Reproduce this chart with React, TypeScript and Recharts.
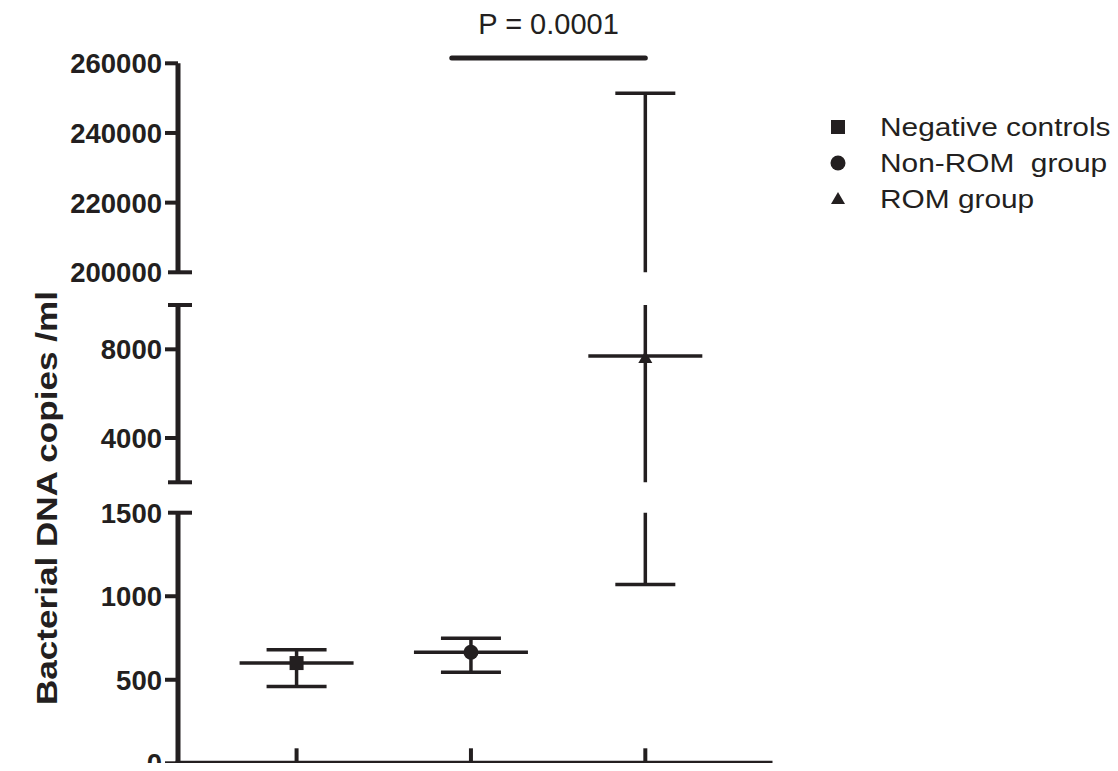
import React from 'react';
import { ComposedChart, Scatter, XAxis, YAxis, ErrorBar, ReferenceLine, Legend } from 'recharts';

// ---------- data ----------
const groupNames = ['Negative controls', 'Non-ROM  group', 'ROM group'];
const groupPositions = [1, 2, 3];
const medianValues = [600, 665, 7700];
const lowValues = [460, 545, 1070];
const highValues = [680, 748, 251400];
const markerTypes = ['square', 'circle', 'triangle'];

const topTicks = [200000, 220000, 240000, 260000];
const midTicks = [2000, 4000, 8000, 10000];
const midLabeled = [4000, 8000];
const bottomTicks = [0, 500, 1000, 1500];

const pValueText = 'P = 0.0001';
const pBarStart = 1.89;
const pBarEnd = 3.0;
const pBarLevel = 261500;

const yAxisTitle = 'Bacterial DNA copies /ml';

// ---------- layout / style ----------
const W = 1118;
const H = 771;
const PLOT_LEFT = 178;
const PLOT_RIGHT = 770;
const X_DOMAIN: [number, number] = [0.32, 3.715];
const INK = '#231f20';
const FONT = '"Liberation Sans", Arial, Helvetica, sans-serif';
const TICK_SIZE = 13;
const TICK_MARGIN = 3;
const X_TICK_LEN = 15;
const X_AXIS_H = 1;
const TEXT_STRETCH = 1.17;

const panels = [
  { key: 'top', domain: [200000, 260000], ticks: topTicks, labeled: topTicks, caps: [200000], top: 63.3, bottom: 272.3 },
  { key: 'mid', domain: [2000, 10000], ticks: midTicks, labeled: midLabeled, caps: [2000, 10000], top: 305, bottom: 482.3 },
  { key: 'bot', domain: [0, 1500], ticks: bottomTicks, labeled: bottomTicks, caps: [1500], top: 512.7, bottom: 763.3 },
];

const seriesData = groupNames.map((name, i) => [
  {
    x: groupPositions[i],
    y: medianValues[i],
    err: [medianValues[i] - lowValues[i], highValues[i] - medianValues[i]],
  },
]);

function Marker({ type, cx, cy }: { type: string; cx: number; cy: number }) {
  if (type === 'square') return <rect x={cx - 7} y={cy - 7} width={14} height={14} fill={INK} />;
  if (type === 'circle') return <circle cx={cx} cy={cy} r={7.5} fill={INK} />;
  return <polygon points={`${cx},${cy - 5} ${cx + 7},${cy + 7} ${cx - 7},${cy + 7}`} fill={INK} />;
}

const makeShape = (type: string) => (props: any) => {
  const { cx, cy } = props;
  if (cx == null || cy == null || isNaN(cx) || isNaN(cy)) return <g />;
  return (
    <g>
      <line x1={cx - 57} x2={cx + 57} y1={cy} y2={cy} stroke={INK} strokeWidth={3.5} />
      <Marker type={type} cx={cx} cy={cy} />
    </g>
  );
};

function YTick(props: any) {
  const { x, y, payload, labeled, caps } = props;
  const ax = x + TICK_SIZE + TICK_MARGIN;
  const v = payload.value;
  const isCap = caps.includes(v);
  return (
    <g>
      <line
        x1={isCap ? ax - 10 : ax - TICK_SIZE}
        x2={isCap ? ax + 14 : ax}
        y1={y}
        y2={y}
        stroke={INK}
        strokeWidth={4}
      />
      {labeled.includes(v) && (
        <text x={x} y={y} dy="0.36em" textAnchor="end" fontFamily={FONT} fontWeight="bold" fontSize={27.5} fill={INK}>
          {v}
        </text>
      )}
    </g>
  );
}

// x-axis tick: drawn upward (inside the plot) from the axis line, no label
function XTick(props: any) {
  const { x, y } = props;
  return <line x1={x} x2={x} y1={y} y2={y - X_TICK_LEN} stroke={INK} strokeWidth={4} />;
}

function LegendContent(props: any) {
  const payload = props.payload || [];
  return (
    <svg width={298} height={120} style={{ display: 'block', overflow: 'visible' }}>
      {payload.map((entry: any, i: number) => {
        const idx = groupNames.indexOf(entry.value);
        const type = markerTypes[idx >= 0 ? idx : i];
        const cy = 17 + i * 36;
        return (
          <g key={entry.value}>
            <Marker type={type} cx={18} cy={type === 'triangle' ? cy - 2 : cy} />
            <text
              transform={`translate(60, ${cy}) scale(${TEXT_STRETCH}, 1)`}
              dy="0.36em"
              fontFamily={FONT}
              fontSize={25.5}
              fill={INK}
              style={{ whiteSpace: 'pre' }}
            >
              {entry.value}
            </text>
          </g>
        );
      })}
    </svg>
  );
}

// Axes, break caps, annotation and legend for one segment of the broken axis
function AxesPanel({ cfg }: { cfg: any }) {
  const isBottom = cfg.key === 'bot';
  const isTop = cfg.key === 'top';
  return (
    <div style={{ position: 'absolute', left: 0, top: 0 }}>
      <ComposedChart
        width={W}
        height={H}
        margin={{
          top: cfg.top,
          bottom: H - cfg.bottom - (isBottom ? X_AXIS_H : 0),
          left: 0,
          right: W - PLOT_RIGHT,
        }}
      >
        <XAxis
          type="number"
          dataKey="x"
          domain={X_DOMAIN}
          ticks={groupPositions}
          interval={0}
          allowDataOverflow
          hide={!isBottom}
          height={X_AXIS_H}
          tickSize={0}
          tickMargin={0}
          tickLine={false}
          tick={(p: any) => <XTick {...p} />}
          axisLine={{ stroke: INK, strokeWidth: 5, strokeLinecap: 'square' }}
        />
        <YAxis
          type="number"
          dataKey="y"
          domain={cfg.domain}
          ticks={cfg.ticks}
          interval={0}
          allowDataOverflow
          width={PLOT_LEFT}
          tickSize={TICK_SIZE}
          tickMargin={TICK_MARGIN}
          tickLine={false}
          axisLine={{ stroke: INK, strokeWidth: 5 }}
          tick={(p: any) => <YTick {...p} labeled={cfg.labeled} caps={cfg.caps} />}
        />
        {isTop &&
          groupNames.map((name, i) => (
            <Scatter
              key={name}
              name={name}
              data={[]}
              fill={INK}
              legendType={markerTypes[i] as any}
              isAnimationActive={false}
            />
          ))}
        {isTop && (
          <ReferenceLine
            segment={[
              { x: pBarStart, y: pBarLevel },
              { x: pBarEnd, y: pBarLevel },
            ]}
            ifOverflow="visible"
            stroke={INK}
            strokeWidth={5}
            strokeLinecap="round"
            label={{
              value: pValueText,
              position: 'top',
              offset: 24,
              fontSize: 29,
              fontFamily: FONT,
              fill: INK,
            }}
          />
        )}
        {isTop && (
          <Legend
            layout="horizontal"
            align="center"
            verticalAlign="middle"
            wrapperStyle={{ position: 'absolute', left: 820, top: 110, width: 298, height: 120 }}
            content={LegendContent}
          />
        )}
      </ComposedChart>
    </div>
  );
}

// Data marks for one segment, clipped to that segment's plot area
function SeriesPanel({ cfg }: { cfg: any }) {
  const clip = `inset(${cfg.top}px ${W - PLOT_RIGHT}px ${H - cfg.bottom}px ${PLOT_LEFT}px)`;
  return (
    <div style={{ position: 'absolute', left: 0, top: 0, clipPath: clip }}>
      <ComposedChart
        width={W}
        height={H}
        margin={{ top: cfg.top, bottom: H - cfg.bottom, left: PLOT_LEFT, right: W - PLOT_RIGHT }}
      >
        <XAxis type="number" dataKey="x" domain={X_DOMAIN} allowDataOverflow hide />
        <YAxis type="number" dataKey="y" domain={cfg.domain} allowDataOverflow hide />
        {groupNames.map((name, i) => (
          <Scatter
            key={name}
            name={name}
            data={seriesData[i]}
            fill={INK}
            legendType={markerTypes[i] as any}
            shape={makeShape(markerTypes[i])}
            isAnimationActive={false}
          >
            <ErrorBar
              dataKey="err"
              direction="y"
              width={30}
              stroke={INK}
              strokeWidth={3.5}
              isAnimationActive={false}
            />
          </Scatter>
        ))}
      </ComposedChart>
    </div>
  );
}

export default function App() {
  return (
    <div style={{ position: 'relative', width: W, height: H, margin: -8, background: '#fff' }}>
      {panels.map((cfg) => (
        <SeriesPanel key={'s-' + cfg.key} cfg={cfg} />
      ))}
      {panels.map((cfg) => (
        <AxesPanel key={'a-' + cfg.key} cfg={cfg} />
      ))}
      <svg width={100} height={H} style={{ position: 'absolute', left: 0, top: 0 }}>
        <text
          transform={`translate(57, 705) rotate(-90) scale(${TEXT_STRETCH}, 1)`}
          textAnchor="start"
          fontFamily={FONT}
          fontWeight="bold"
          fontSize={30}
          fill={INK}
        >
          {yAxisTitle}
        </text>
      </svg>
    </div>
  );
}
